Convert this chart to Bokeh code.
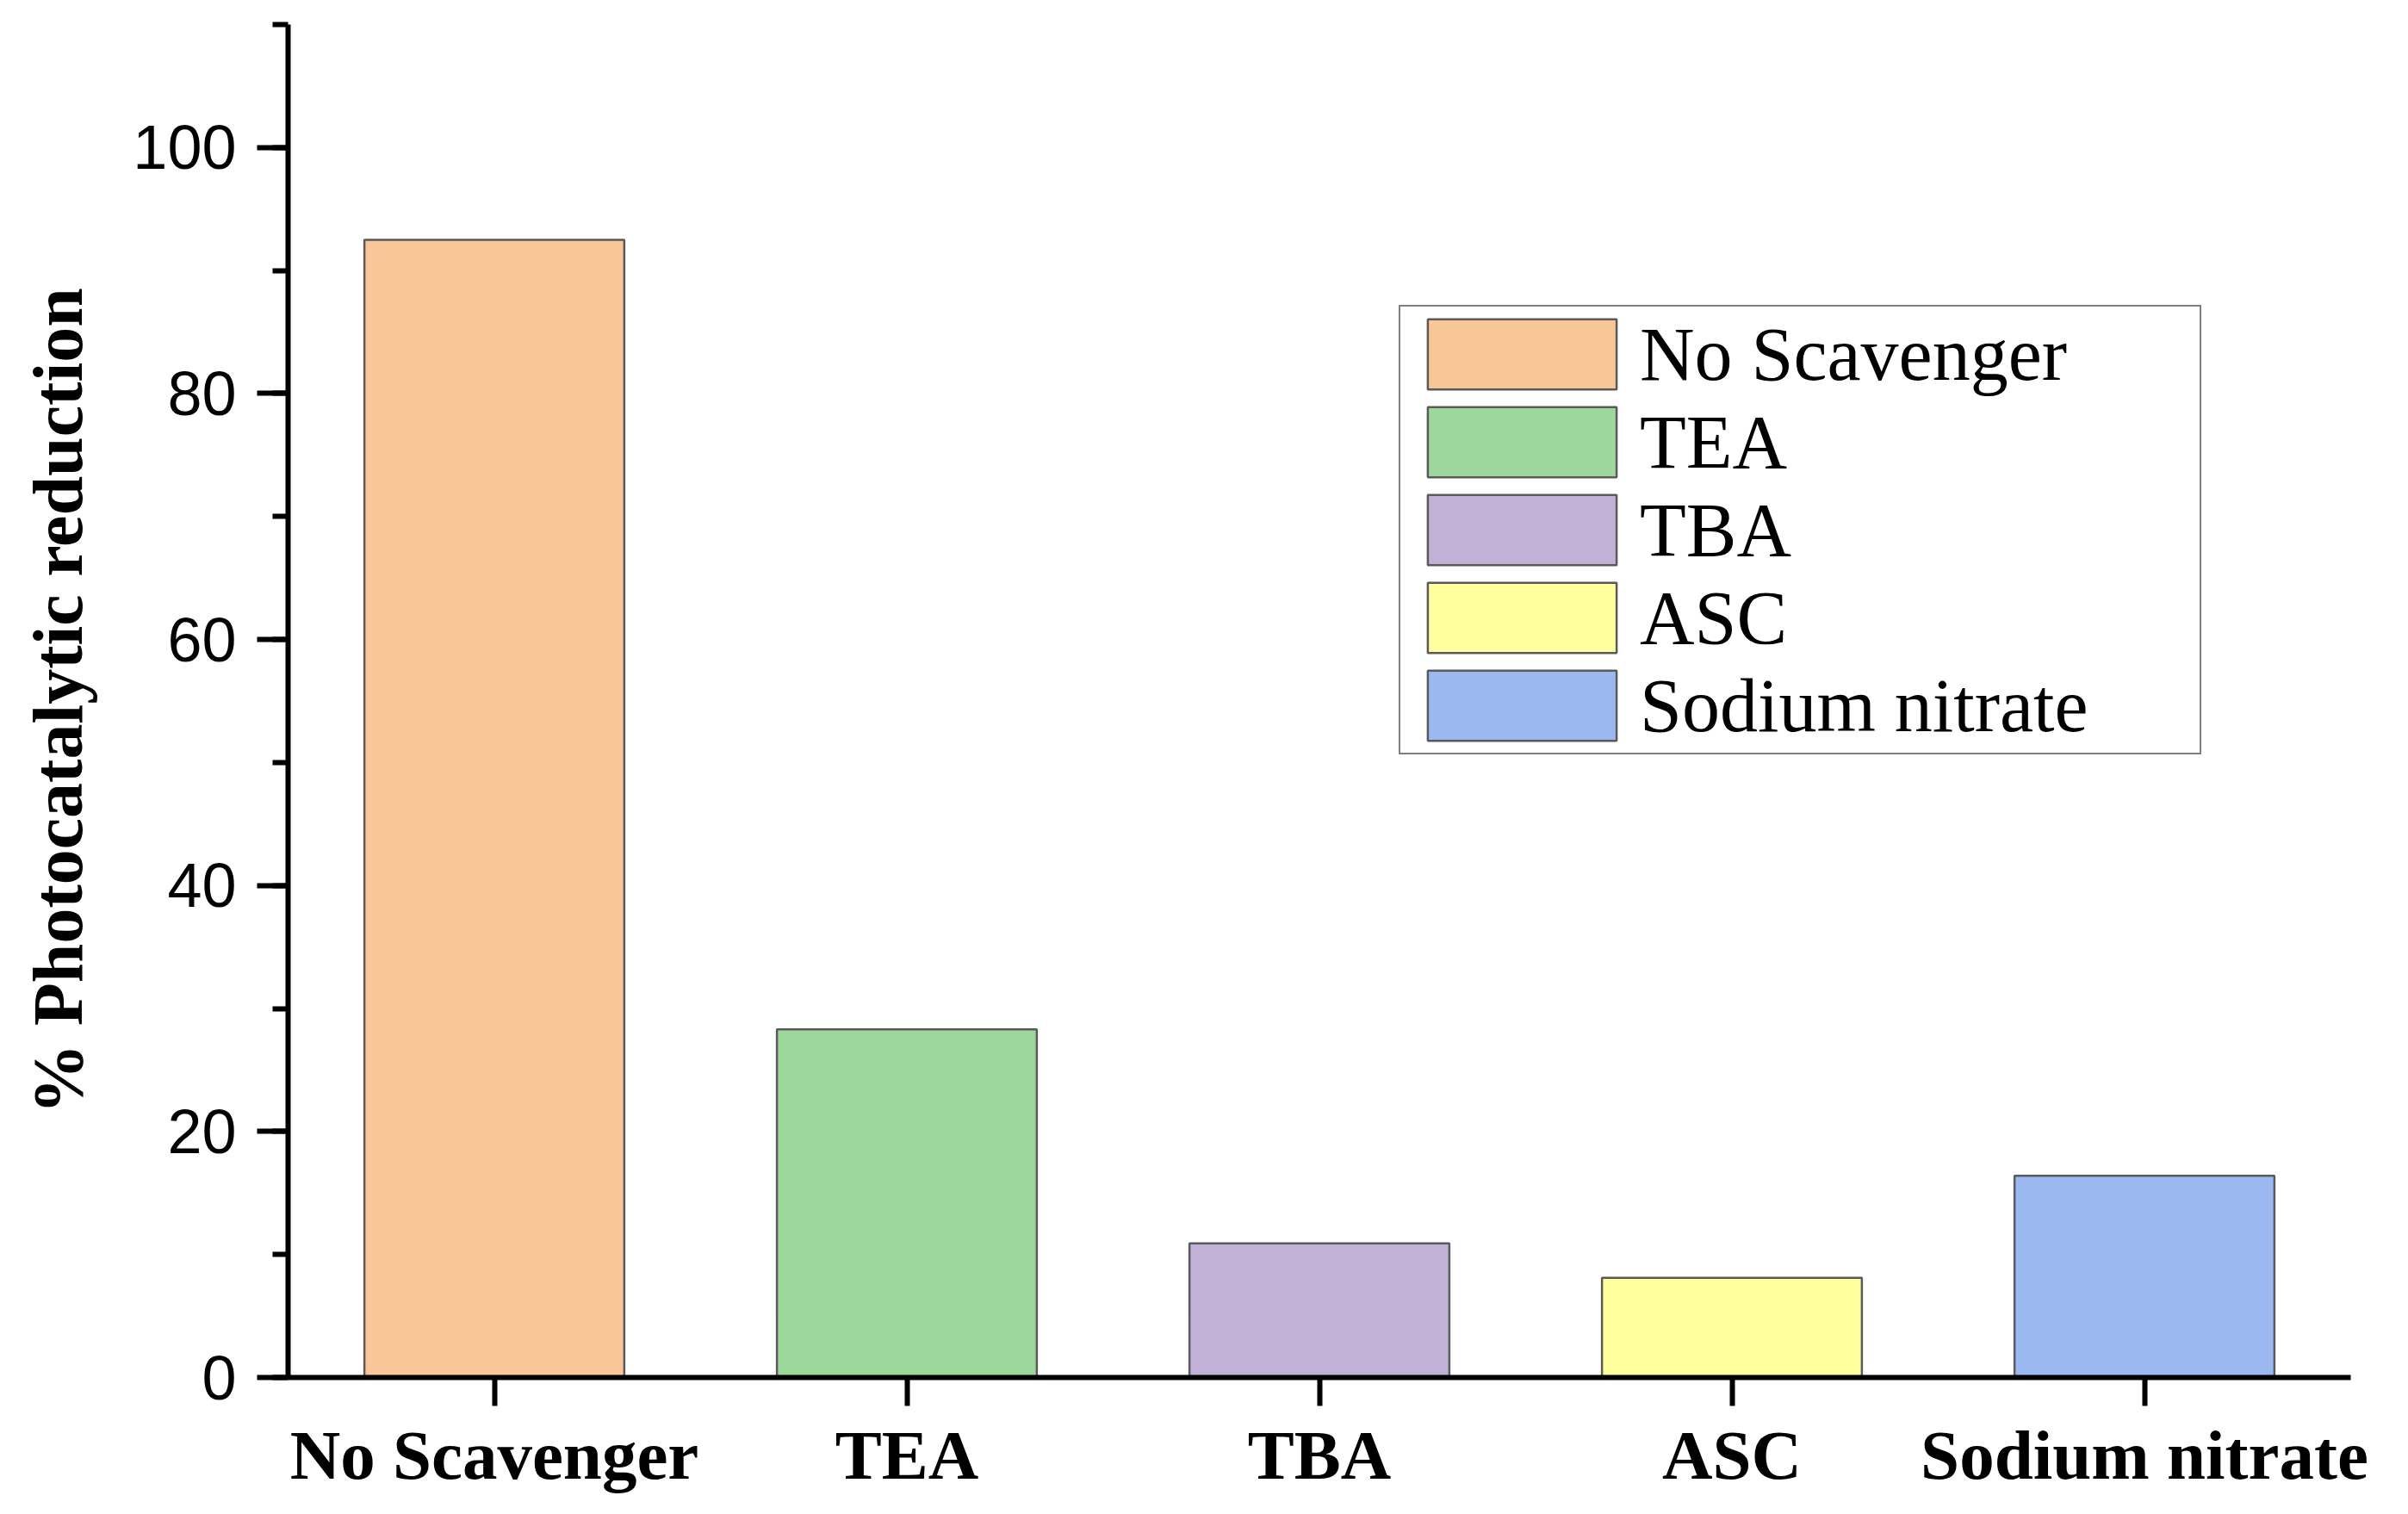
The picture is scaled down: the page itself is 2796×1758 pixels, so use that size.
from bokeh.plotting import figure
from bokeh.models import ColumnDataSource, FactorRange, Range1d, SingleIntervalTicker, Legend, LegendItem
from bokeh.embed import file_html
from bokeh.resources import INLINE

categories = ["No Scavenger", "TEA", "TBA", "ASC", "Sodium nitrate"]
values = [92.5, 28.3, 10.9, 8.1, 16.4]
colors = ["#F9C797", "#9ED79C", "#C2B1D6", "#FFFF9E", "#9BB9F0"]
y_label = "% Photocatalytic reduction"

src = ColumnDataSource(dict(cat=categories, val=values, color=colors))

p = figure(width=2780, height=1740, x_range=FactorRange(*categories, range_padding=0),
           y_range=Range1d(0, 110), output_backend="svg", toolbar_location=None,
           min_border_left=334, min_border_right=51, min_border_top=28, min_border_bottom=141)
p.outline_line_color = None
p.xgrid.grid_line_color = None
p.ygrid.grid_line_color = None

r = p.vbar(x="cat", top="val", width=0.63, source=src, fill_color="color",
           line_color="#5a5a5a", line_width=2.5)

# axes
p.yaxis.ticker = SingleIntervalTicker(interval=20, num_minor_ticks=2)
for ax in (p.xaxis[0], p.yaxis[0]):
    ax.axis_line_width = 6
    ax.axis_line_color = "black"
    ax.major_tick_line_width = 6
    ax.major_tick_line_color = "black"
    ax.minor_tick_line_width = 6
    ax.minor_tick_line_color = "black"
    ax.major_tick_in = 0

p.yaxis.major_tick_out = 36
p.yaxis.minor_tick_out = 18
p.yaxis.minor_tick_in = 0
p.yaxis.major_label_standoff = 24
p.yaxis.major_label_text_font = "Liberation Sans"
p.yaxis.major_label_text_font_size = "72px"
p.yaxis.major_label_text_color = "black"
p.yaxis.axis_label = y_label
p.yaxis.axis_label_text_font = "Liberation Serif"
p.yaxis.axis_label_text_font_style = "bold"
p.yaxis.axis_label_text_font_size = "82px"
p.yaxis.axis_label_text_color = "black"
p.yaxis.axis_label_standoff = 38

p.xaxis.major_tick_out = 33
p.xaxis.minor_tick_out = 0
p.xaxis.major_label_standoff = 12
p.xaxis.major_label_text_font = "Liberation Serif"
p.xaxis.major_label_text_font_style = "bold"
p.xaxis.major_label_text_font_size = "81px"
p.xaxis.major_label_text_color = "black"

items = [LegendItem(label=c, renderers=[r], index=i) for i, c in enumerate(categories)]
legend = Legend(items=items, location=(1290, 723), orientation="vertical",
                glyph_width=274, glyph_height=102, spacing=0, padding=4, margin=0,
                label_standoff=0, label_text_font="Liberation Serif",
                label_text_color="black",
                label_text_font_size="88px", label_height=89, label_width=646,
                border_line_color="black", border_line_width=2.5,
                background_fill_alpha=1.0)
p.add_layout(legend, "center")

open("out.html", "w").write(file_html(p, INLINE))
